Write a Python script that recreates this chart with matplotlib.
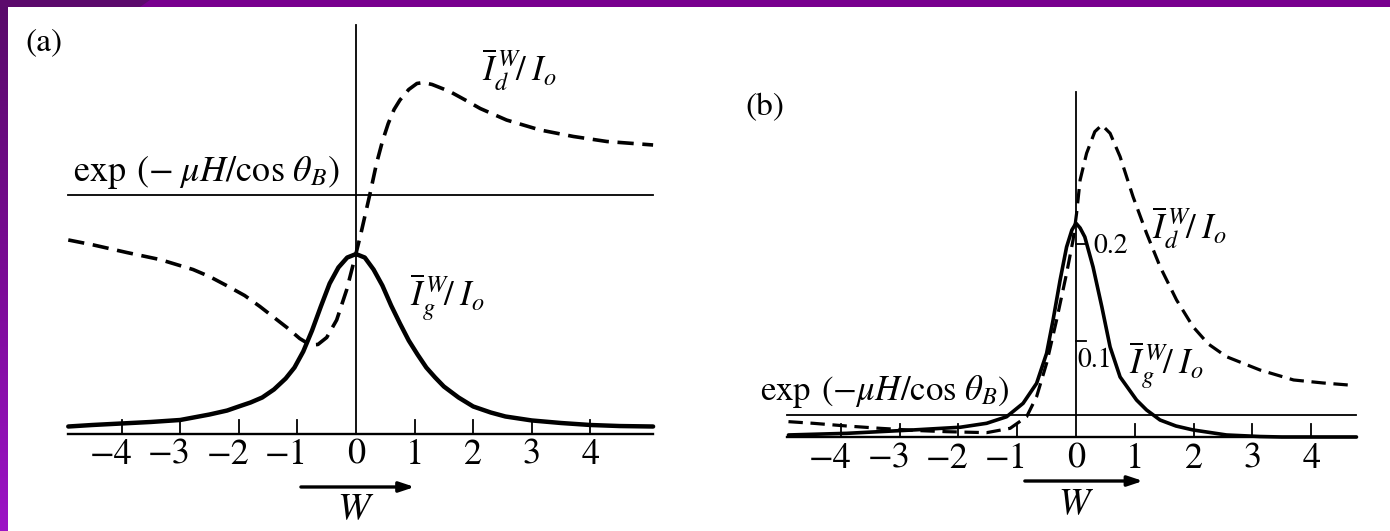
import numpy as np
import matplotlib
matplotlib.use("Agg")
import matplotlib.pyplot as plt
from matplotlib.colors import LinearSegmentedColormap
from matplotlib.patches import Rectangle, Polygon

plt.rcParams['font.family'] = ['STIXGeneral', 'DejaVu Serif']
plt.rcParams['mathtext.fontset'] = 'stix'

# (a) thin crystal: intensities in units of I_o against W
w_g_a = [-4.91, -4.5, -4.0, -3.5, -3.0, -2.5, -2.2, -2.0, -1.8, -1.6, -1.4, -1.2,
         -1.05, -0.9, -0.75, -0.6, -0.45, -0.3, -0.15, 0.0, 0.15, 0.3, 0.45, 0.6,
         0.75, 0.9, 1.05, 1.2, 1.35, 1.5, 1.75, 2.0, 2.3, 2.55, 3.0, 3.5, 4.0, 4.5, 5.07]
ig_a = [0.0074, 0.0090, 0.0106, 0.0122, 0.0143, 0.0201, 0.0243, 0.0286, 0.0328, 0.0381,
        0.0466, 0.0582, 0.0698, 0.0868, 0.1090, 0.1344, 0.1587, 0.1757, 0.1862, 0.1899,
        0.1862, 0.1735, 0.1566, 0.1354, 0.1164, 0.0984, 0.0836, 0.0698, 0.0593, 0.0497,
        0.0381, 0.0286, 0.0222, 0.0180, 0.0138, 0.0111, 0.0090, 0.0079, 0.0074]
w_d_a = [-4.91, -4.48, -3.91, -3.34, -2.78, -2.5, -2.21, -1.9, -1.64, -1.4, -1.18, -0.96,
         -0.78, -0.65, -0.5, -0.33, -0.16, 0.0, 0.08, 0.15, 0.24, 0.35, 0.45, 0.55, 0.65,
         0.75, 0.9, 1.04, 1.15, 1.3, 1.6, 1.85, 2.12, 2.57, 3.14, 3.71, 4.28, 5.07]
id_a = [0.2048, 0.1995, 0.1915, 0.1840, 0.1735, 0.1661, 0.1566, 0.1460, 0.1344, 0.1228,
        0.1122, 0.1005, 0.0937, 0.0942, 0.1016, 0.1201, 0.1519, 0.1905, 0.2106, 0.2296,
        0.2540, 0.2857, 0.3090, 0.3280, 0.3429, 0.3529, 0.3640, 0.3704, 0.3714, 0.3693,
        0.3619, 0.3534, 0.3439, 0.3317, 0.3212, 0.3143, 0.3090, 0.3053]
exp_a = 0.252

# (b) thick crystal
w_g_b = [-4.89, -3.9, -2.77, -1.97, -1.52, -1.18, -0.9, -0.67, -0.5, -0.39, -0.27, -0.16,
         -0.07, 0.0, 0.07, 0.15, 0.29, 0.44, 0.58, 0.75, 1.03, 1.2, 1.43, 1.7, 1.99, 2.56,
         3.13, 3.5, 4.77]
ig_b = [0.0021, 0.0038, 0.0073, 0.0101, 0.0142, 0.0210, 0.0349, 0.0556, 0.0867, 0.1212,
        0.1627, 0.1969, 0.2145, 0.2215, 0.2166, 0.2073, 0.1762, 0.1347, 0.0933, 0.0622,
        0.0383, 0.0280, 0.0176, 0.0114, 0.0073, 0.0021, 0.0005, 0.0, 0.0]
w_d_b = [-4.89, -4.47, -3.9, -3.33, -2.7, -2.2, -1.52, -1.12, -0.84, -0.67, -0.5, -0.33,
         -0.16, -0.05, 0.01, 0.07, 0.18, 0.32, 0.44, 0.58, 0.75, 0.97, 1.2, 1.43, 1.71,
         1.99, 2.25, 2.56, 3.13, 3.7, 4.2, 4.63]
id_b = [0.0159, 0.0142, 0.0114, 0.0090, 0.0067, 0.0055, 0.0045, 0.0090, 0.0210, 0.0418,
        0.0764, 0.1212, 0.1696, 0.2041, 0.2318, 0.2663, 0.2940, 0.3164, 0.3233, 0.3147,
        0.2905, 0.2490, 0.2111, 0.1765, 0.1420, 0.1143, 0.0964, 0.0832, 0.0694, 0.0591,
        0.0560, 0.0539]
exp_b = 0.023

ticks = [-4, -3, -2, -1, 0, 1, 2, 3, 4]
tick_labels = ['\u22124', '\u22123', '\u22122', '\u22121', '0', '1', '2', '3', '4']
b_yticks = [0.1, 0.2]
b_ytick_labels = ['0.1', '0.2']

lbl_d = r'$\overline{I}_{d}^{\,W}\!/\;I_{o}$'
lbl_g = r'$\overline{I}_{g}^{\,W}\!/\;I_{o}$'

fig = plt.figure(figsize=(13.9, 5.31), dpi=100)
fig.patch.set_facecolor('white')

ax_a = fig.add_axes([8 / 1390, 0, 682 / 1390, 523 / 531])
ax_a.set_xlim((8 - 356) / 58.6, (690 - 356) / 58.6)
ax_a.set_ylim((433.5 - 531) / 945, (433.5 - 8) / 945)

ax_b = fig.add_axes([700 / 1390, 0, 690 / 1390, 523 / 531])
ax_b.set_xlim((700 - 1076) / 58.8, (1390 - 1076) / 58.8)
ax_b.set_ylim((437 - 531) / 965, (437 - 8) / 965)


def draw_panel(ax, w_g, ig, w_d, idd, exp_level, x0, x1, vtop, tick_h, lw_g, lw_d):
    ax.axis('off')
    ax.plot([x0, x1], [0, 0], color='k', lw=1.7)
    ax.plot([x0, x1], [exp_level, exp_level], color='k', lw=1.3)
    ax.plot([0, 0], [0, vtop], color='k', lw=1.3)
    for t in ticks:
        if t != 0:
            ax.plot([t, t], [0, tick_h], color='k', lw=1.3)
    ax.plot(w_g, ig, color='k', lw=lw_g, solid_joinstyle='round', solid_capstyle='round')
    ax.plot(w_d, idd, color='k', lw=lw_d, ls=(0, (4.5, 2.4)), dash_capstyle='butt')


draw_panel(ax_a, w_g_a, ig_a, w_d_a, id_a, exp_a, -4.91, 5.07, 0.432, 0.0148, 3.2, 2.6)
draw_panel(ax_b, w_g_b, ig_b, w_d_b, id_b, exp_b, -4.92, 4.77, 0.3575, 0.0135, 2.6, 2.3)

# tick labels under both axes
for ax, vy in [(ax_a, -0.0228), (ax_b, -0.0228)]:
    for t, s in zip(ticks, tick_labels):
        if t < 0:
            ax.text(t + 0.18, vy, s, ha='right', va='center', fontsize=26)
        else:
            ax.text(t, vy, s, ha='center', va='center', fontsize=26)

# panel (a) labels
ax_a.text(-5.32, 0.414, '(a)', ha='center', va='center', fontsize=24)
ax_a.text(-2.56, 0.267, r'$\exp\;(-\;\mu H/\cos\,\theta_{B})$', ha='center', va='baseline', fontsize=26)
ax_a.text(2.78, 0.385, lbl_d, ha='center', va='center', fontsize=25)
ax_a.text(1.56, 0.144, lbl_g, ha='center', va='center', fontsize=25)
ax_a.annotate('', xy=(1.0, -0.0566), xytext=(-0.94, -0.0566),
              arrowprops=dict(arrowstyle='-|>,head_length=0.9,head_width=0.3', lw=2.4,
                              color='k', shrinkA=0, shrinkB=0))
ax_a.text(0, -0.081, r'$W$', ha='center', va='center', fontsize=28)

# panel (b) labels
for v in b_yticks:
    ax_b.plot([0, 0.17], [v, v], color='k', lw=1.3)
ax_b.text(0.595, 0.198, b_ytick_labels[1], ha='center', va='center', fontsize=20)
ax_b.text(0.323, 0.0798, b_ytick_labels[0], ha='center', va='center', fontsize=20)
ax_b.text(-5.29, 0.341, '(b)', ha='center', va='center', fontsize=24)
ax_b.text(-3.25, 0.0383, r'$\exp\;(-\mu H/\cos\,\theta_{B})$', ha='center', va='baseline', fontsize=25)
ax_b.text(1.92, 0.2166, lbl_d, ha='center', va='center', fontsize=25)
ax_b.text(1.53, 0.0746, lbl_g, ha='center', va='center', fontsize=25)
ax_b.annotate('', xy=(1.14, -0.0456), xytext=(-0.87, -0.0456),
              arrowprops=dict(arrowstyle='-|>,head_length=0.9,head_width=0.3', lw=2.4,
                              color='k', shrinkA=0, shrinkB=0))
ax_b.text(0, -0.0705, r'$W$', ha='center', va='center', fontsize=27)

# purple frame along the top and left edges
fig.add_artist(Rectangle((0, 524 / 531), 1, 7 / 531, transform=fig.transFigure,
                         facecolor='#79008f', edgecolor='none'))
fig.add_artist(Polygon([(0, 1), (150 / 1390, 1), (140 / 1390, 524 / 531), (0, 524 / 531)],
                       closed=True, transform=fig.transFigure,
                       facecolor='#5c0a6c', edgecolor='none'))
ax_frame = fig.add_axes([0, 0, 8 / 1390, 524 / 531])
grad = np.linspace(0, 1, 256).reshape(-1, 1)
cmap = LinearSegmentedColormap.from_list('frame', ['#5a0a6b', '#7a0a95', '#9c14c6'])
ax_frame.imshow(grad, aspect='auto', cmap=cmap, origin='upper')
ax_frame.axis('off')

fig.savefig('out.png', dpi=100)
